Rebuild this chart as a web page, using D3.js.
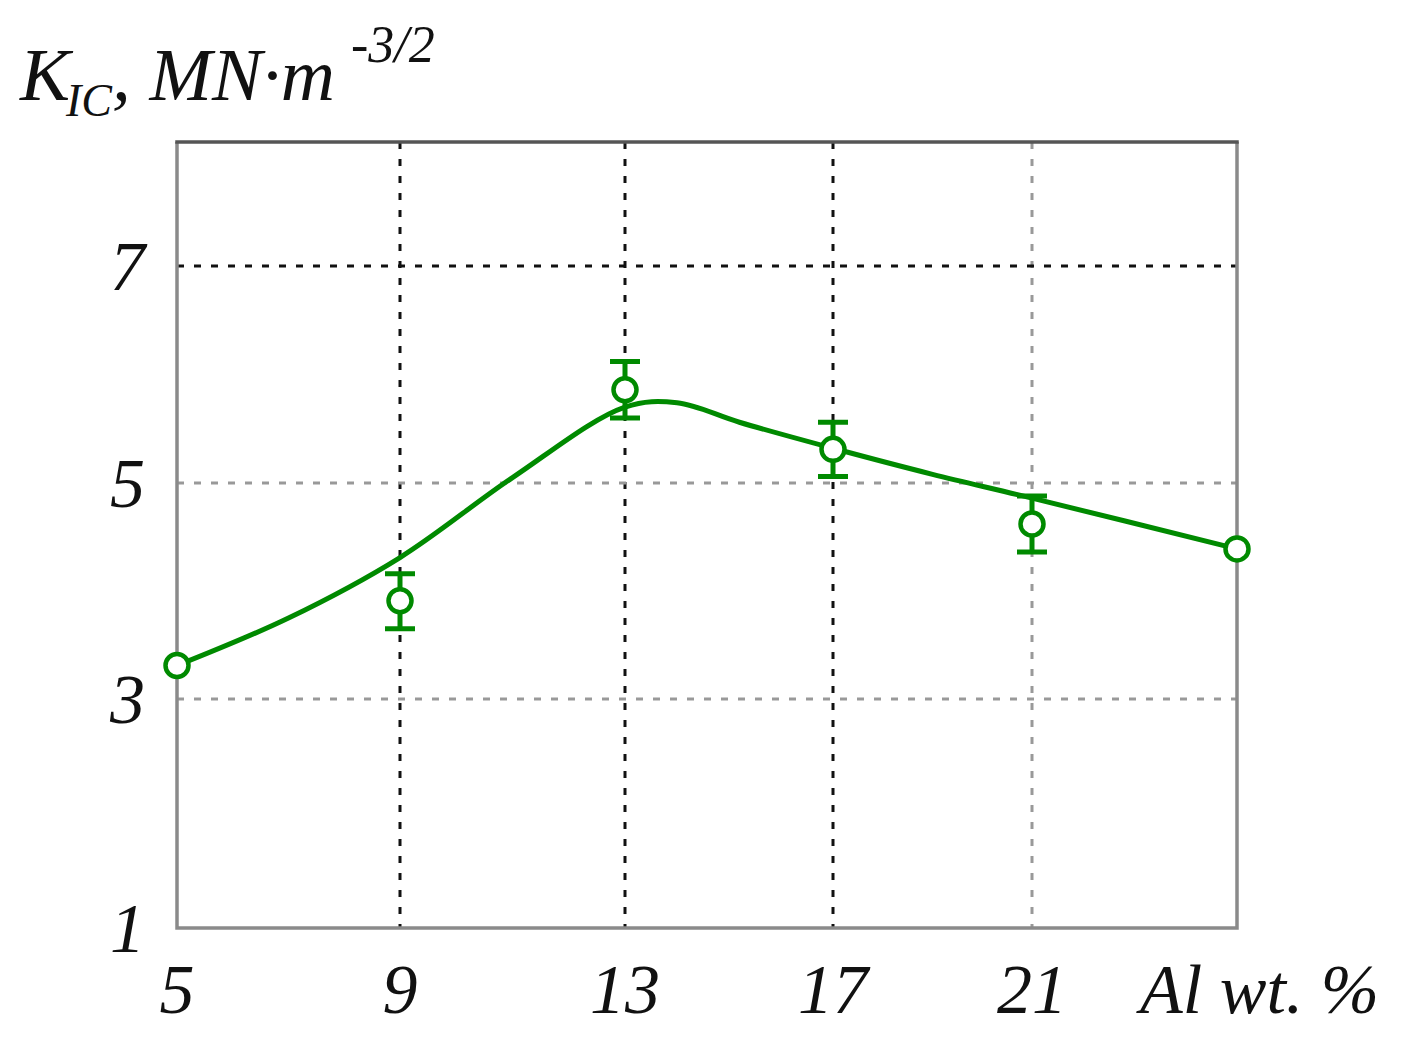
<!DOCTYPE html>
<html>
<head>
<meta charset="utf-8">
<script src="https://cdn.jsdelivr.net/npm/d3@7"></script>
<style>
  body { margin: 0; background: #fff; }
  text { font-family: 'Liberation Serif', 'Times New Roman', serif; font-style: italic; fill: #111; }
</style>
</head>
<body>
<div id="chart"></div>
<script>
// Al content (wt. %) and measured K_IC values
var alContent = [5, 9, 13, 17, 21, 25];
var kicMean = [3.31, 3.91, 5.86, 5.31, 4.62, 4.39];
var kicLow = [null, 3.65, 5.60, 5.06, 4.36, null];
var kicHigh = [null, 4.16, 6.12, 5.56, 4.88, null];

// fitted curve
var fitX = [5, 7, 9, 11, 13, 14, 15.2, 17, 19, 21, 25];
var fitY = [3.31, 3.75, 4.31, 5.05, 5.70, 5.74, 5.56, 5.32, 5.08, 4.86, 4.39];

var xTicks = [5, 9, 13, 17, 21];
var yTicks = [1, 3, 5, 7];
var xUnit = 'Al wt. %';

var width = 1414;
var height = 1050;
var green = '#008a00';

var plotLeft = 177, plotRight = 1237, plotTop = 142, plotBottom = 928;

// the original axes are not evenly spaced, so piecewise scales
var x = d3.scaleLinear()
          .domain([5, 9, 13, 17, 21, 25])
          .range([plotLeft, 400, 625, 833, 1032, plotRight]);

var y = d3.scaleLinear()
          .domain([1, 3, 5, 7])
          .range([plotBottom, 699, 483, 266]);

var svg = d3.select('#chart')
            .append('svg')
            .attr('width', width)
            .attr('height', height);

// grid lines
svg.selectAll('.gx')
    .data(xTicks.slice(1))
    .enter()
    .append('line')
      .attr('class', 'gx')
      .attr('x1', function (d) { return x(d); })
      .attr('x2', function (d) { return x(d); })
      .attr('y1', plotTop)
      .attr('y2', plotBottom)
      .attr('stroke', function (d) { return d === 21 ? '#999' : '#111'; })
      .attr('stroke-width', 3)
      .attr('stroke-dasharray', '7,10');

svg.selectAll('.gy')
    .data(yTicks.slice(1))
    .enter()
    .append('line')
      .attr('class', 'gy')
      .attr('x1', plotLeft)
      .attr('x2', plotRight)
      .attr('y1', function (d) { return y(d); })
      .attr('y2', function (d) { return y(d); })
      .attr('stroke', function (d) { return d === 7 ? '#111' : '#999'; })
      .attr('stroke-width', 3)
      .attr('stroke-dasharray', '7,10');

// frame
svg.append('path')
    .attr('d', 'M' + plotLeft + ',' + plotTop + 'V' + plotBottom + 'H' + plotRight + 'V' + plotTop)
    .attr('fill', 'none')
    .attr('stroke', '#8a8a8a')
    .attr('stroke-width', 3.5);
svg.append('line')
    .attr('x1', plotLeft - 1.75).attr('x2', plotRight + 1.75)
    .attr('y1', plotTop).attr('y2', plotTop)
    .attr('stroke', '#555')
    .attr('stroke-width', 3.5);

// tick labels
svg.selectAll('.ty')
    .data(yTicks)
    .enter()
    .append('text')
      .attr('class', 'ty')
      .attr('x', 145)
      .attr('y', function (d) { return y(d); })
      .attr('dy', '0.34em')
      .attr('text-anchor', 'end')
      .attr('font-size', 70)
      .text(function (d) { return d; });

svg.selectAll('.tx')
    .data(xTicks)
    .enter()
    .append('text')
      .attr('class', 'tx')
      .attr('x', function (d) { return x(d); })
      .attr('y', 1013)
      .attr('text-anchor', 'middle')
      .attr('font-size', 70)
      .text(function (d) { return d; });

svg.append('text')
    .attr('x', 1140)
    .attr('y', 1013)
    .attr('font-size', 70)
    .text(xUnit);

// y label: K_IC, MN·m^-3/2
var title = svg.append('text')
    .attr('x', 20)
    .attr('y', 100)
    .attr('font-size', 75);
title.append('tspan').text('K');
title.append('tspan').attr('font-size', 46).attr('dy', 16).attr('dx', -4).text('IC');
title.append('tspan').attr('dy', -16).text(', MN\u00b7m');
title.append('tspan').attr('font-size', 52).attr('dy', -38).attr('dx', 16).text('-3/2');

// fitted curve
var line = d3.line()
            .x(function (d) { return x(d[0]); })
            .y(function (d) { return y(d[1]); })
            .curve(d3.curveCatmullRom.alpha(0.5));

svg.append('path')
    .datum(d3.zip(fitX, fitY))
    .attr('d', line)
    .attr('fill', 'none')
    .attr('stroke', green)
    .attr('stroke-width', 5);

// error bars
var points = alContent.map(function (a, i) {
  return { x: a, y: kicMean[i], lo: kicLow[i], hi: kicHigh[i] };
});
var bars = points.filter(function (d) { return d.lo !== null; });

svg.selectAll('.err')
    .data(bars)
    .enter()
    .append('path')
      .attr('class', 'err')
      .attr('d', function (d) {
        var cx = x(d.x), yl = y(d.lo), yh = y(d.hi);
        return 'M' + cx + ',' + yl + 'V' + yh +
               'M' + (cx - 15) + ',' + yh + 'H' + (cx + 15) +
               'M' + (cx - 15) + ',' + yl + 'H' + (cx + 15);
      })
      .attr('fill', 'none')
      .attr('stroke', green)
      .attr('stroke-width', 5);

// data points
svg.selectAll('circle')
    .data(points)
    .enter()
    .append('circle')
      .attr('cx', function (d) { return x(d.x); })
      .attr('cy', function (d) { return y(d.y); })
      .attr('r', 11.5)
      .attr('fill', '#fff')
      .attr('stroke', green)
      .attr('stroke-width', 4.5);
</script>
</body>
</html>
